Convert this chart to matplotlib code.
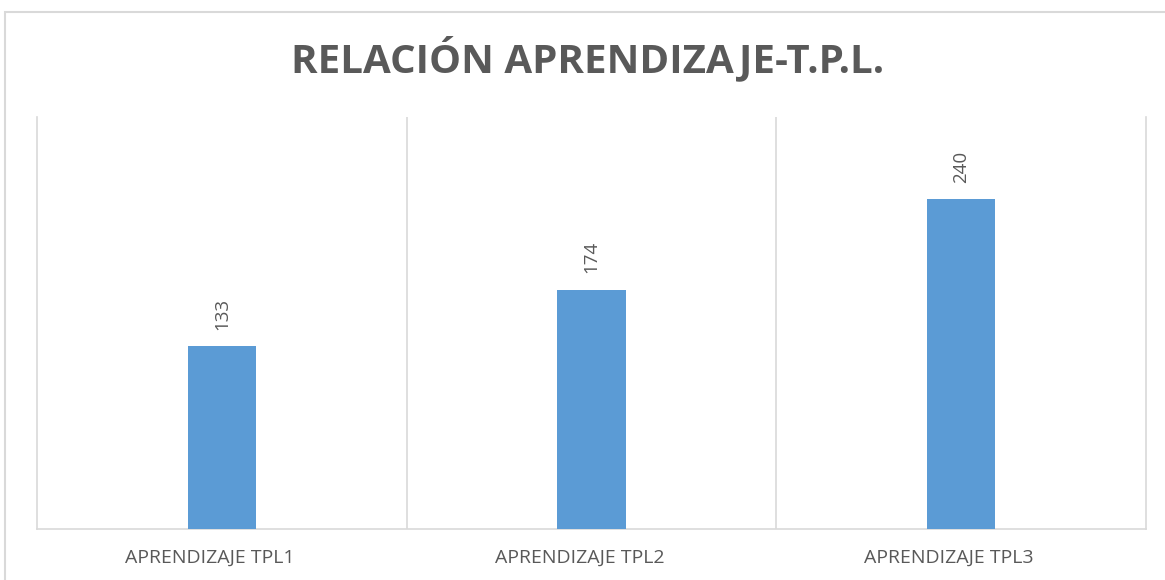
import matplotlib
matplotlib.use("Agg")
import matplotlib.pyplot as plt
from matplotlib.patches import Rectangle
from matplotlib.transforms import ScaledTranslation

categories = ["APRENDIZAJE TPL1", "APRENDIZAJE TPL2", "APRENDIZAJE TPL3"]
values = [133, 174, 240]
title = "RELACIÓN APRENDIZAJE-T.P.L."

W, H = 1165, 580
fig = plt.figure(figsize=(W / 100, H / 100), dpi=100)
fig.patch.set_facecolor("white")

grid_c = "#d9d9d9"
text_c = "#595959"
bar_c = "#5b9bd5"
fam = ["Open Sans", "DejaVu Sans"]

# outer chart frame
fig.patches.append(Rectangle((5 / W, -0.05), 1.2, 1 - 12 / H + 0.05, transform=fig.transFigure,
                             fill=False, edgecolor=grid_c, linewidth=1.5))

ax = fig.add_axes([37 / W, 1 - 529 / H, (1146 - 37) / W, (529 - 117) / H])
x = list(range(len(categories)))
ax.bar(x, values, width=0.185, color=bar_c, zorder=3)
ax.set_xlim(-0.5, len(categories) - 0.5)
ax.set_ylim(0, 300)

ax.spines["top"].set_visible(False)
for s in ["left", "right", "bottom"]:
    ax.spines[s].set_color(grid_c)
    ax.spines[s].set_linewidth(1.2)
for b in [i + 0.5 for i in range(len(categories) - 1)]:
    ax.axvline(b, color=grid_c, linewidth=1.2, zorder=1)

ax.set_yticks([])
ax.set_xticks(x)
ax.set_xticklabels(categories, fontsize=14, color=text_c, family=fam)
ax.tick_params(axis="x", length=0, pad=14)
shift = ScaledTranslation(-12 / 100, 0, fig.dpi_scale_trans)
for lbl in ax.get_xticklabels():
    lbl.set_transform(lbl.get_transform() + shift)

for xi, v in zip(x, values):
    ax.annotate(str(v), (xi, v), xytext=(0, 12), textcoords="offset points",
                rotation=90, ha="center", va="bottom", fontsize=13.5, color=text_c,
                family=fam)

fig.text(588 / W, 1 - 58 / H, title, ha="center", va="center", fontsize=29,
         fontweight="bold", color=text_c, family=fam)

fig.savefig("out.png", dpi=100)
